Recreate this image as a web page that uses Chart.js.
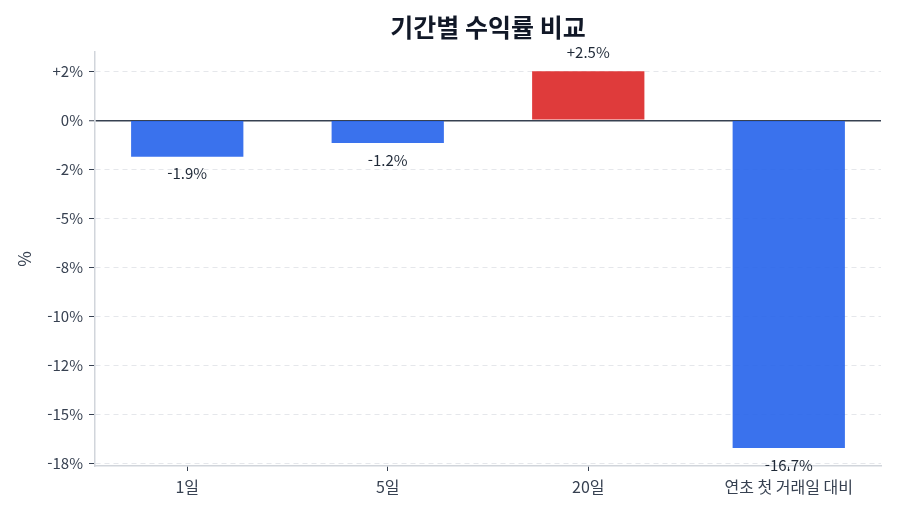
<!DOCTYPE html>
<html lang="ko">
<head>
<meta charset="utf-8">
<title>기간별 수익률 비교</title>
<script src="https://cdn.jsdelivr.net/npm/chart.js@4"></script>
<style>
  html, body { margin: 0; padding: 0; background: #fff; }
  #wrap { width: 900px; height: 514px; }
</style>
</head>
<body>
<div id="wrap"><canvas id="myChart"></canvas></div>
<script>
// chart data
const categories = ['1일', '5일', '20일', '연초 첫 거래일 대비'];
const returns = [-1.86, -1.16, 2.5, -16.7];
const yTickValues = [2.5, 0, -2.5, -5, -7.5, -10, -12.5, -15, -17.5];
const yTickLabels = ['+2%', '0%', '-2%', '-5%', '-8%', '-10%', '-12%', '-15%', '-18%'];

const FONT = "'Noto Sans CJK KR', 'Noto Sans', sans-serif";
const TEXT = '#374151';

// value labels under / over each bar
const valueLabels = {
    id: 'valueLabels',
    afterDatasetsDraw(chart) {
        const c = chart.ctx;
        const meta = chart.getDatasetMeta(0);
        c.save();
        c.font = '15px ' + FONT;
        c.fillStyle = '#1f2937';
        c.textAlign = 'center';
        c.textBaseline = 'middle';
        meta.data.forEach((bar, i) => {
            const v = returns[i];
            const txt = (v > 0 ? '+' : '') + v.toFixed(1) + '%';
            const y = v >= 0 ? bar.y - 19 : bar.y + 17;
            c.fillText(txt, bar.x, y);
        });
        c.restore();
    }
};

document.addEventListener('DOMContentLoaded', function () {
    const ctx = document.getElementById('myChart').getContext('2d');

    new Chart(ctx, {
        type: 'bar',
        data: {
            datasets: [{
                data: returns.map((v, i) => ({ x: i, y: v })),
                backgroundColor: returns.map(v => v >= 0 ? 'rgba(220,38,38,0.9)' : 'rgba(37,99,235,0.9)'),
                borderWidth: 0,
                categoryPercentage: 1,
                barPercentage: 0.56
            }]
        },
        options: {
            responsive: true,
            maintainAspectRatio: false,
            animation: false,
            layout: { padding: { left: 0, right: 19, top: 0, bottom: 0 } },
            plugins: {
                legend: { display: false },
                tooltip: { enabled: false },
                title: {
                    display: true,
                    fullSize: false,
                    text: '기간별 수익률 비교',
                    color: '#111827',
                    font: { family: FONT, size: 25, weight: 'bold', lineHeight: 1.2 },
                    padding: { top: 12, bottom: 10 }
                }
            },
            scales: {
                x: {
                    type: 'linear',
                    offset: false,
                    min: -0.46,
                    max: 3.46,
                    afterBuildTicks: scale => {
                        scale.ticks = categories.map((c, i) => ({ value: i }));
                    },
                    afterFit: scale => { scale.height = 48; },
                    ticks: {
                        callback: v => categories[v],
                        color: TEXT,
                        font: { family: FONT, size: 16 },
                        padding: 6,
                        autoSkip: false,
                        maxRotation: 0
                    },
                    grid: {
                        offset: false,
                        drawOnChartArea: false,
                        drawTicks: true,
                        tickLength: 5,
                        tickColor: TEXT,
                        tickWidth: 1
                    },
                    border: { color: '#d1d5db', width: 1.5 }
                },
                y: {
                    min: -17.62,
                    max: 3.48,
                    afterBuildTicks: scale => {
                        scale.ticks = yTickValues.map(v => ({ value: v }));
                    },
                    afterFit: scale => { scale.width = 95; },
                    ticks: {
                        callback: v => yTickLabels[yTickValues.indexOf(v)],
                        color: TEXT,
                        font: { family: FONT, size: 15 },
                        padding: 6
                    },
                    grid: {
                        color: c => (c.tick && c.tick.value === 0) ? '#374151' : '#e5e7eb',
                        lineWidth: c => (c.tick && c.tick.value === 0) ? 1.5 : 1,
                        tickLength: 6,
                        tickColor: TEXT,
                        tickWidth: 1,
                        tickBorderDash: []
                    },
                    border: {
                        color: '#d1d5db',
                        width: 1.5,
                        dash: c => (c.tick && c.tick.value !== 0) ? [5, 4] : []
                    },
                    title: {
                        display: true,
                        text: '%',
                        color: TEXT,
                        font: { family: FONT, size: 17 },
                        padding: { top: 14, bottom: 0 }
                    }
                }
            }
        },
        plugins: [valueLabels]
    });
});
</script>
</body>
</html>
